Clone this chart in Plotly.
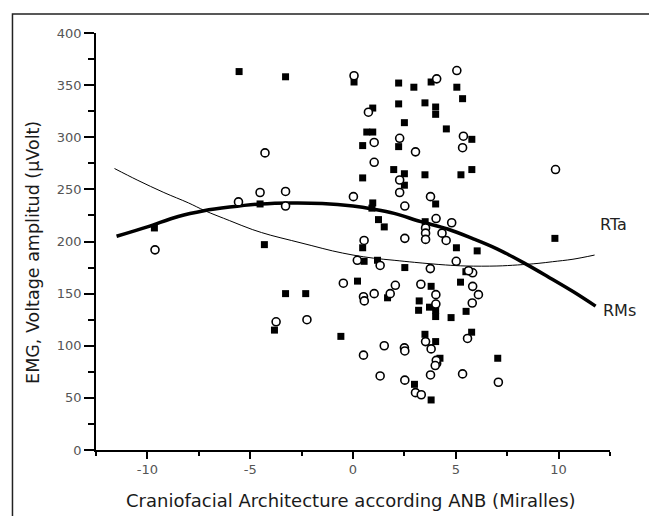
import plotly.graph_objects as go

# ---- data ----
rms_x = [-9.66, -5.54, -4.52, -4.31, -3.28, -3.28, -3.82, -2.3, -0.59, 0.22, 0.05, 0.47, 0.47, 0.47,
         0.54, 0.96, 0.67, 0.96, 0.96, 0.92, 1.24, 1.52, 1.19, 1.68, 1.98, 2.22, 2.22, 2.22, 2.5, 2.5,
         2.5, 2.52, 2.96, 2.99, 3.22, 3.19, 3.5, 3.5, 3.5, 3.51, 3.8, 4.02, 4.02, 4.54, 4.02, 3.8,
         3.72, 4.02, 4.02, 4.02, 4.23, 3.8, 4.77, 5.05, 5.33, 5.78, 5.25, 5.78, 5.03, 6.04, 5.49,
         5.23, 5.5, 5.77, 7.04, 9.82]
rms_y = [213, 363, 236, 197, 358, 150, 115, 150, 109, 162, 353, 292, 261, 194,
         181, 328, 305, 305, 237, 232, 221, 214, 182, 146, 269, 352, 332, 291, 314, 265,
         254, 175, 348, 63, 143, 134, 333, 264, 111, 219, 353, 329, 322, 308, 236, 157,
         137, 134, 128, 104, 88, 48, 127, 348, 337, 298, 264, 269, 194, 191, 171,
         161, 133, 113, 88, 203]

rta_x = [-9.63, -5.57, -4.52, -4.28, -3.28, -3.28, -3.74, -2.24, -0.47, 0.05, 0.02, 0.21, 0.54,
         0.51, 0.55, 0.51, 0.75, 1.03, 1.03, 1.03, 1.32, 1.32, 1.52, 1.81, 2.06, 2.27, 2.27, 2.27,
         2.52, 2.52, 2.5, 2.52, 2.52, 3.04, 3.04, 3.32, 3.3, 3.53, 3.53, 3.53, 3.77, 4.04, 4.8,
         4.33, 4.53, 3.76, 5.02, 5.82, 5.82, 6.1, 5.8, 4.03, 4.03, 3.53, 3.8, 4.07, 4.05, 4.0,
         3.77, 5.33, 7.07, 5.57, 5.37, 5.33, 5.05, 4.07, 9.85, 5.62]
rta_y = [192, 238, 247, 285, 248, 234, 123, 125, 160, 359, 243, 182, 201,
         147, 143, 91, 324, 295, 276, 150, 177, 71, 100, 150, 158, 299, 259, 247,
         234, 203, 98, 95, 67, 286, 55, 53, 159, 213, 208, 202, 243, 222, 218,
         208, 201, 174, 181, 170, 157, 149, 141, 149, 140, 104, 97, 83, 86, 81,
         72, 73, 65, 107, 301, 290, 364, 356, 269, 172]

rms_fit_x = [-11.5, -10, -8.5, -7.25, -6, -4.5, -3, -1.5, 0, 1, 2, 3.3, 4.6, 5.8, 7, 8.35, 9.5, 10.7, 11.8]
rms_fit_y = [205, 214, 224, 229.5, 233, 236, 237, 236.5, 234, 231, 227, 219, 212, 203, 193, 179, 166, 152, 138]

rta_fit_x = [-11.6, -10.5, -9.2, -8, -7.2, -6, -4.9, -4, -3, -2, -1, 0, 1, 2, 3, 4.5, 5.5, 7, 8, 9,
             9.7, 10.7, 11.75]
rta_fit_y = [270, 259, 247, 237, 229.5, 220, 211.5, 206, 201, 196, 191, 187, 184, 182, 180, 177.5,
             176.5, 176.5, 177.5, 179, 180.6, 183, 187]

x_tickvals = [-10, -5, 0, 5, 10]
x_ticktext = ["-10", "-5", "0", "5", "10"]
y_tickvals = [0, 50, 100, 150, 200, 250, 300, 350, 400]

x_title = "Craniofacial Architecture according ANB (Miralles)"
y_title = "EMG, Voltage amplitud (\u00b5Volt)"
label_rta = "RTa"
label_rms = "RMs"

FONT = "DejaVu Sans"

fig = go.Figure()
fig.add_trace(go.Scatter(x=rta_fit_x, y=rta_fit_y, mode="lines", line=dict(color="black", width=1, shape="spline"),
                         showlegend=False, hoverinfo="skip"))
fig.add_trace(go.Scatter(x=rms_fit_x, y=rms_fit_y, mode="lines", line=dict(color="black", width=3.5, shape="spline"),
                         showlegend=False, hoverinfo="skip"))
fig.add_trace(go.Scatter(x=rms_x, y=rms_y, mode="markers", name="RMs",
                         marker=dict(symbol="square", size=7, color="black", line=dict(width=0)),
                         showlegend=False))
fig.add_trace(go.Scatter(x=rta_x, y=rta_y, mode="markers", name="RTa",
                         marker=dict(symbol="circle", size=8, color="white", line=dict(color="black", width=1.6)),
                         showlegend=False))

fig.add_annotation(x=11.9, y=216, xref="x", yref="y", text=label_rta, showarrow=False,
                   xanchor="left", yanchor="middle", font=dict(family=FONT, size=16, color="#222"))
fig.add_annotation(x=12.05, y=134, xref="x", yref="y", text=label_rms, showarrow=False,
                   xanchor="left", yanchor="middle", font=dict(family=FONT, size=16, color="#222"))

fig.add_annotation(x=0.496, y=-0.122, xref="paper", yref="paper", text=x_title, showarrow=False,
                   xanchor="center", yanchor="middle", font=dict(family=FONT, size=18, color="#1a1a1a"))
fig.add_annotation(x=-0.1226, y=0.475, xref="paper", yref="paper", text=y_title, showarrow=False,
                   textangle=-90, xanchor="center", yanchor="middle",
                   font=dict(family=FONT, size=17.5, color="#1a1a1a"))

# outer frame
fig.add_shape(type="rect", xref="paper", yref="paper", x0=-0.1625, x1=1.2, y0=-0.3, y1=1.0456,
              line=dict(color="#222", width=1.5), fillcolor="rgba(0,0,0,0)", layer="below")

fig.update_xaxes(range=[-12.5, 12.5], tickvals=x_tickvals, ticktext=x_ticktext,
                 showline=True, linecolor="black", linewidth=1.5, ticks="outside", ticklen=7, tickwidth=1.5,
                 tickcolor="black", showgrid=False, zeroline=False,
                 minor=dict(dtick=2.5, tick0=0, ticks="outside", ticklen=4, tickwidth=1.5, tickcolor="black", showgrid=False),
                 tickfont=dict(family=FONT, size=13, color="#555"))
fig.update_yaxes(range=[0, 400], tickvals=y_tickvals,
                 showline=True, linecolor="black", linewidth=1.5, ticks="outside", ticklen=10, tickwidth=1.5,
                 tickcolor="black", showgrid=False, zeroline=False,
                 minor=dict(dtick=25, tick0=0, ticks="outside", ticklen=6, tickwidth=1.5, tickcolor="black", showgrid=False),
                 tickfont=dict(family=FONT, size=13, color="#555"))

# page body has an 8px margin, so the figure is sized to fit the 657x516 window exactly
fig.update_layout(width=649, height=508, margin=dict(l=88, r=47, t=25, b=66),
                  paper_bgcolor="white", plot_bgcolor="white", showlegend=False)

fig.write_html("out.html")
